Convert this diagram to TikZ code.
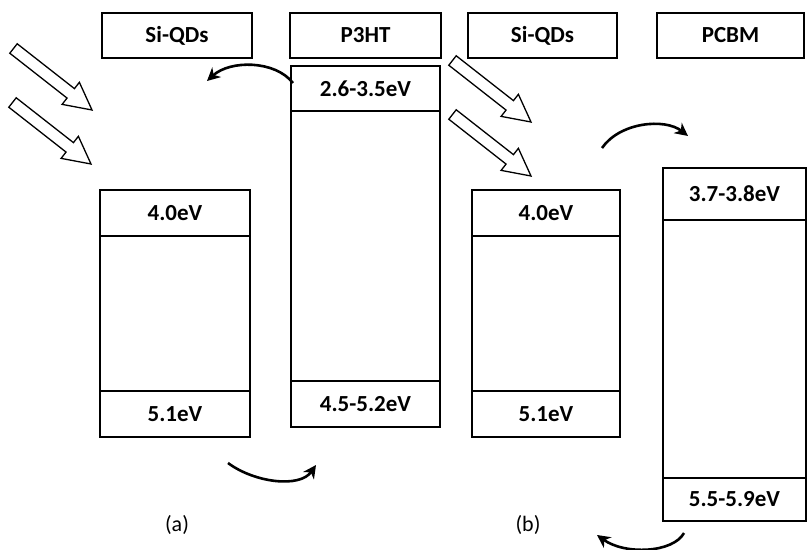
\documentclass[tikz,border=0pt]{standalone}
\usepackage{fontspec}
\setmainfont{Carlito}
\usetikzlibrary{calc,arrows.meta}
\newcommand\bx[6]{%
  \node[box,minimum width={#3-#2},minimum height={#5-#4}] (#1) at ({(#2+#3)/2},{(#4+#5)/2}) {#6};}
\newcommand\hollowarrow[2]{%
  \coordinate (hb) at ($(#2)!27pt!(#1)$);
  \draw[hollow] ($(#1)!6pt!90:(#2)$) -- ($(hb)!6pt!-90:(#1)$) -- ($(hb)!14pt!-90:(#1)$) -- (#2)
    -- ($(hb)!14pt!90:(#1)$) -- ($(hb)!6pt!90:(#1)$) -- ($(#1)!6pt!-90:(#2)$) -- cycle;}
\begin{document}
\begin{tikzpicture}[x=1pt,y=-1pt,
  box/.style={draw,line width=1.4pt,inner sep=0pt,font=\fontsize{23}{27}\selectfont\bfseries},
  curv/.style={line width=2.6pt,-{Stealth[length=13pt,width=13pt,inset=4pt]}},
  hollow/.style={draw,line width=1.3pt,line join=miter,fill=white},
  lab/.style={font=\fontsize{22}{26}\selectfont}]
\useasboundingbox[fill=white] (0,0) rectangle (808,549);

% top labels
\bx{tA}{102}{252}{13}{58}{Si-QDs}
\bx{tP}{290}{441}{13}{58}{P3HT}
\bx{tB}{468}{617}{13}{58}{Si-QDs}
\bx{tC}{657}{804}{13}{58}{PCBM}

% Si-QDs (a)
\bx{aL}{100}{250}{190}{236}{4.0eV}
\bx{aM}{100}{250}{236}{391}{}
\bx{aH}{100}{250}{391}{437}{5.1eV}
% P3HT
\bx{pL}{291}{440}{66}{111}{2.6-3.5eV}
\bx{pM}{291}{440}{111}{381}{}
\bx{pH}{291}{440}{381}{427}{4.5-5.2eV}
% Si-QDs (b)
\bx{bL}{472}{620}{190}{236}{4.0eV}
\bx{bM}{472}{620}{236}{391}{}
\bx{bH}{472}{620}{391}{437}{5.1eV}
% PCBM
\bx{cL}{663}{806}{168}{220}{3.7-3.8eV}
\bx{cM}{663}{806}{220}{478}{}
\bx{cH}{663}{806}{478}{521}{5.5-5.9eV}

% hollow light arrows
\coordinate (a1t) at (13.5,48.5);  \coordinate (a1h) at (92,110);
\coordinate (a2t) at (12.5,102.5); \coordinate (a2h) at (91,164);
\coordinate (b1t) at (452.5,60.5); \coordinate (b1h) at (531,122);
\coordinate (b2t) at (452.5,114.5);\coordinate (b2h) at (531,176);
\hollowarrow{a1t}{a1h}
\hollowarrow{a2t}{a2h}
\hollowarrow{b1t}{b1h}
\hollowarrow{b2t}{b2h}

% curved transfer arrows
\coordinate (c1s) at (293,83);  \coordinate (c1e) at (207,81);
\coordinate (c2s) at (602,148); \coordinate (c2e) at (688,136);
\coordinate (c3s) at (228,463); \coordinate (c3e) at (316,465);
\coordinate (c4s) at (684,533); \coordinate (c4e) at (597,535);
\draw[curv] (c1s) .. controls (275,60) and (230,60) .. (c1e);
\draw[curv] (c2s) .. controls (620,122) and (665,118) .. (c2e);
\draw[curv] (c3s) .. controls (255,483) and (300,488) .. (c3e);
\draw[curv] (c4s) .. controls (673,553) and (625,555) .. (c4e);

% captions
\node[lab] (la) at (177,525) {(a)};
\node[lab] (lb) at (528,525) {(b)};
\end{tikzpicture}
\end{document}
